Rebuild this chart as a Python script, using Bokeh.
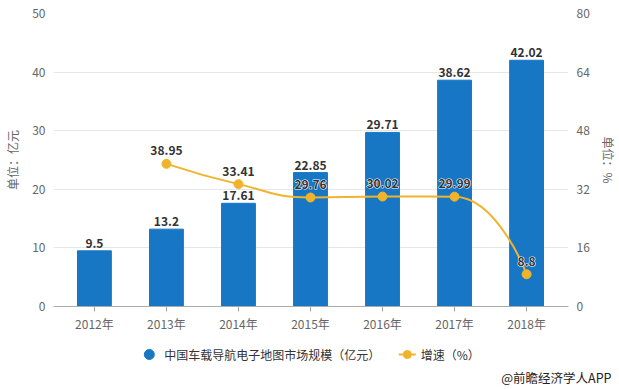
from math import hypot
from bokeh.plotting import figure
from bokeh.layouts import column
from bokeh.models import Range1d, LinearAxis, FixedTicker, Title
from bokeh.core.properties import value
from bokeh.embed import file_html
from bokeh.resources import INLINE

# ---- data ----
years = ["2012年", "2013年", "2014年", "2015年", "2016年", "2017年", "2018年"]
market = [9.5, 13.2, 17.61, 22.85, 29.71, 38.62, 42.02]
growth_years = ["2013年", "2014年", "2015年", "2016年", "2017年", "2018年"]
growth = [38.95, 33.41, 29.76, 30.02, 29.99, 8.8]
left_ticks = [0, 10, 20, 30, 40, 50]
right_ticks = [0, 16, 32, 48, 64, 80]
bar_name = "中国车载导航电子地图市场规模（亿元）"
line_name = "增速（%）"
left_title = "单位：亿元"
right_title = "单位：%"
credit = "@前瞻经济学人APP"

# ---- style ----
BAR = "#1777c4"
LINE = "#f0b42c"
FONT = "Noto Sans CJK SC"
TICK_COLOR = "#666666"
W, H_MAIN, H_LEG = 619, 335, 54
BL, BR = 53, 50

xs = list(range(len(years)))
gx = [years.index(y) for y in growth_years]

p = figure(width=W, height=H_MAIN, output_backend="svg", toolbar_location=None,
           x_range=Range1d(-0.568, 6.582), y_range=Range1d(0, 50),
           min_border_left=BL, min_border_right=BR, min_border_top=13, min_border_bottom=29)
p.extra_y_ranges = {"rate": Range1d(0, 80)}
p.outline_line_color = None
p.xgrid.visible = False
p.ygrid.grid_line_color = "#e6e6e6"
p.ygrid.ticker = FixedTicker(ticks=left_ticks)

xa = p.xaxis[0]
xa.ticker = FixedTicker(ticks=xs)
xa.major_label_overrides = {i: y for i, y in zip(xs, years)}
xa.axis_line_color = "#aaaaaa"
xa.major_tick_line_color = "#aaaaaa"
xa.major_tick_in = 0
xa.major_tick_out = 5
xa.minor_tick_line_color = None
xa.minor_tick_out = 0
xa.major_label_standoff = 3
xa.major_label_text_font = FONT
xa.major_label_text_font_size = "12px"
xa.major_label_text_color = TICK_COLOR

ya = p.yaxis[0]
ya.ticker = FixedTicker(ticks=left_ticks)
ya.axis_line_color = None
ya.major_tick_line_color = None
ya.minor_tick_line_color = None
ya.major_tick_out = 0
ya.minor_tick_out = 0
ya.major_label_standoff = 8
ya.major_label_text_font = FONT
ya.major_label_text_font_size = "12px"
ya.major_label_text_color = TICK_COLOR
ya.axis_label = left_title
ya.axis_label_text_font = FONT
ya.axis_label_text_font_size = "12px"
ya.axis_label_text_font_style = "normal"
ya.axis_label_text_color = TICK_COLOR
ya.axis_label_standoff = 8

ra = LinearAxis(y_range_name="rate", ticker=FixedTicker(ticks=right_ticks))
ra.axis_line_color = None
ra.major_tick_line_color = None
ra.minor_tick_line_color = None
ra.major_tick_out = 0
ra.minor_tick_out = 0
ra.major_label_standoff = 8
ra.major_label_text_font = FONT
ra.major_label_text_font_size = "12px"
ra.major_label_text_color = TICK_COLOR
ra.axis_label = right_title
ra.axis_label_text_font = FONT
ra.axis_label_text_font_size = "12px"
ra.axis_label_text_font_style = "normal"
ra.axis_label_text_color = TICK_COLOR
ra.axis_label_standoff = 7
p.add_layout(ra, "right")

# bars
p.vbar(x=xs, top=market, width=0.47, color=BAR)

# smooth line (echarts-like smoothing computed in pixel space)
XS = 516 / 7.15
YS = 293 / 80.0


def smooth_segments(px, py, s=0.5):
    n = len(px)
    segs = []
    pcx, pcy = px[0], py[0]
    for i in range(1, n):
        x, y = px[i], py[i]
        if i < n - 1:
            prx, pry = px[i - 1], py[i - 1]
            nx, ny = px[i + 1], py[i + 1]
            vx, vy = nx - prx, ny - pry
            l0 = hypot(x - prx, y - pry)
            l1 = hypot(nx - x, ny - y)
            r = l1 / (l0 + l1)
            ncx = x + vx * s * r
            ncy = y + vy * s * r
            ncx = max(min(ncx, max(nx, x)), min(nx, x))
            ncy = max(min(ncy, max(ny, y)), min(ny, y))
            vx, vy = ncx - x, ncy - y
            cx = x - vx * l0 / l1
            cy = y - vy * l0 / l1
            cx = max(min(cx, max(prx, x)), min(prx, x))
            cy = max(min(cy, max(pry, y)), min(pry, y))
            vx, vy = x - cx, y - cy
            ncx = x + vx * l1 / l0
            ncy = y + vy * l1 / l0
        else:
            cx, cy = x, y
            ncx, ncy = x, y
        segs.append((px[i - 1], py[i - 1], x, y, pcx, pcy, cx, cy))
        pcx, pcy = ncx, ncy
    return segs


segs = smooth_segments([v * XS for v in gx], [v * YS for v in growth])
p.bezier(x0=[s[0] / XS for s in segs], y0=[s[1] / YS for s in segs],
         x1=[s[2] / XS for s in segs], y1=[s[3] / YS for s in segs],
         cx0=[s[4] / XS for s in segs], cy0=[s[5] / YS for s in segs],
         cx1=[s[6] / XS for s in segs], cy1=[s[7] / YS for s in segs],
         line_color=LINE, line_width=2, y_range_name="rate")
p.scatter(x=gx, y=growth, size=9, color=LINE, y_range_name="rate")

# labels
p.text(x=xs, y=market, text=[str(v) for v in market], text_align="center",
       text_baseline="bottom", y_offset=-3, text_font_size="12px",
       text_font_style="bold", text_color="#333333", text_font=value(FONT))
# growth labels: white halo underneath, dark text on top
growth_text = [str(v) for v in growth]
p.text(x=gx, y=growth, text=growth_text, text_align="center",
       text_baseline="middle", y_offset=-13, text_font_size="12px",
       text_font_style="bold", text_color="white", text_outline_color="white",
       text_font=value(FONT), y_range_name="rate")
p.text(x=gx, y=growth, text=growth_text, text_align="center",
       text_baseline="middle", y_offset=-13, text_font_size="12px",
       text_font_style="bold", text_color="#333333",
       text_font=value(FONT), y_range_name="rate")

# ---- legend strip (its frame is aligned with the main frame; pixel coordinates) ----
STRIP_BOTTOM = 24
lg = figure(width=W, height=H_LEG, output_backend="svg", toolbar_location=None,
            x_range=Range1d(BL, W - BR), y_range=Range1d(H_LEG - STRIP_BOTTOM, 0),
            x_axis_type=None, y_axis_type=None,
            min_border_left=BL, min_border_right=BR, min_border_top=0,
            min_border_bottom=STRIP_BOTTOM)
lg.outline_line_color = None
lg.grid.visible = False

LEG_Y = 19
lg.scatter(x=[149], y=[LEG_Y], size=10, color=BAR)
lg.text(x=[164], y=[LEG_Y], text=[bar_name], text_baseline="middle",
        text_font_size="12px", text_color="#333333", text_font=value(FONT))
lg.line(x=[399, 416], y=[LEG_Y, LEG_Y], line_color=LINE, line_width=2)
lg.scatter(x=[407.5], y=[LEG_Y], size=8, color=LINE)
lg.text(x=[421], y=[LEG_Y], text=[line_name], text_baseline="middle",
        text_font_size="12px", text_color="#333333", text_font=value(FONT))
lg.add_layout(Title(text=credit, align="right", offset=-43, standoff=0,
                    text_font=FONT, text_font_size="12.5px", text_font_style="normal",
                    text_color="#222222"), "below")

open("out.html", "w").write(file_html(column(p, lg, spacing=0), INLINE))
